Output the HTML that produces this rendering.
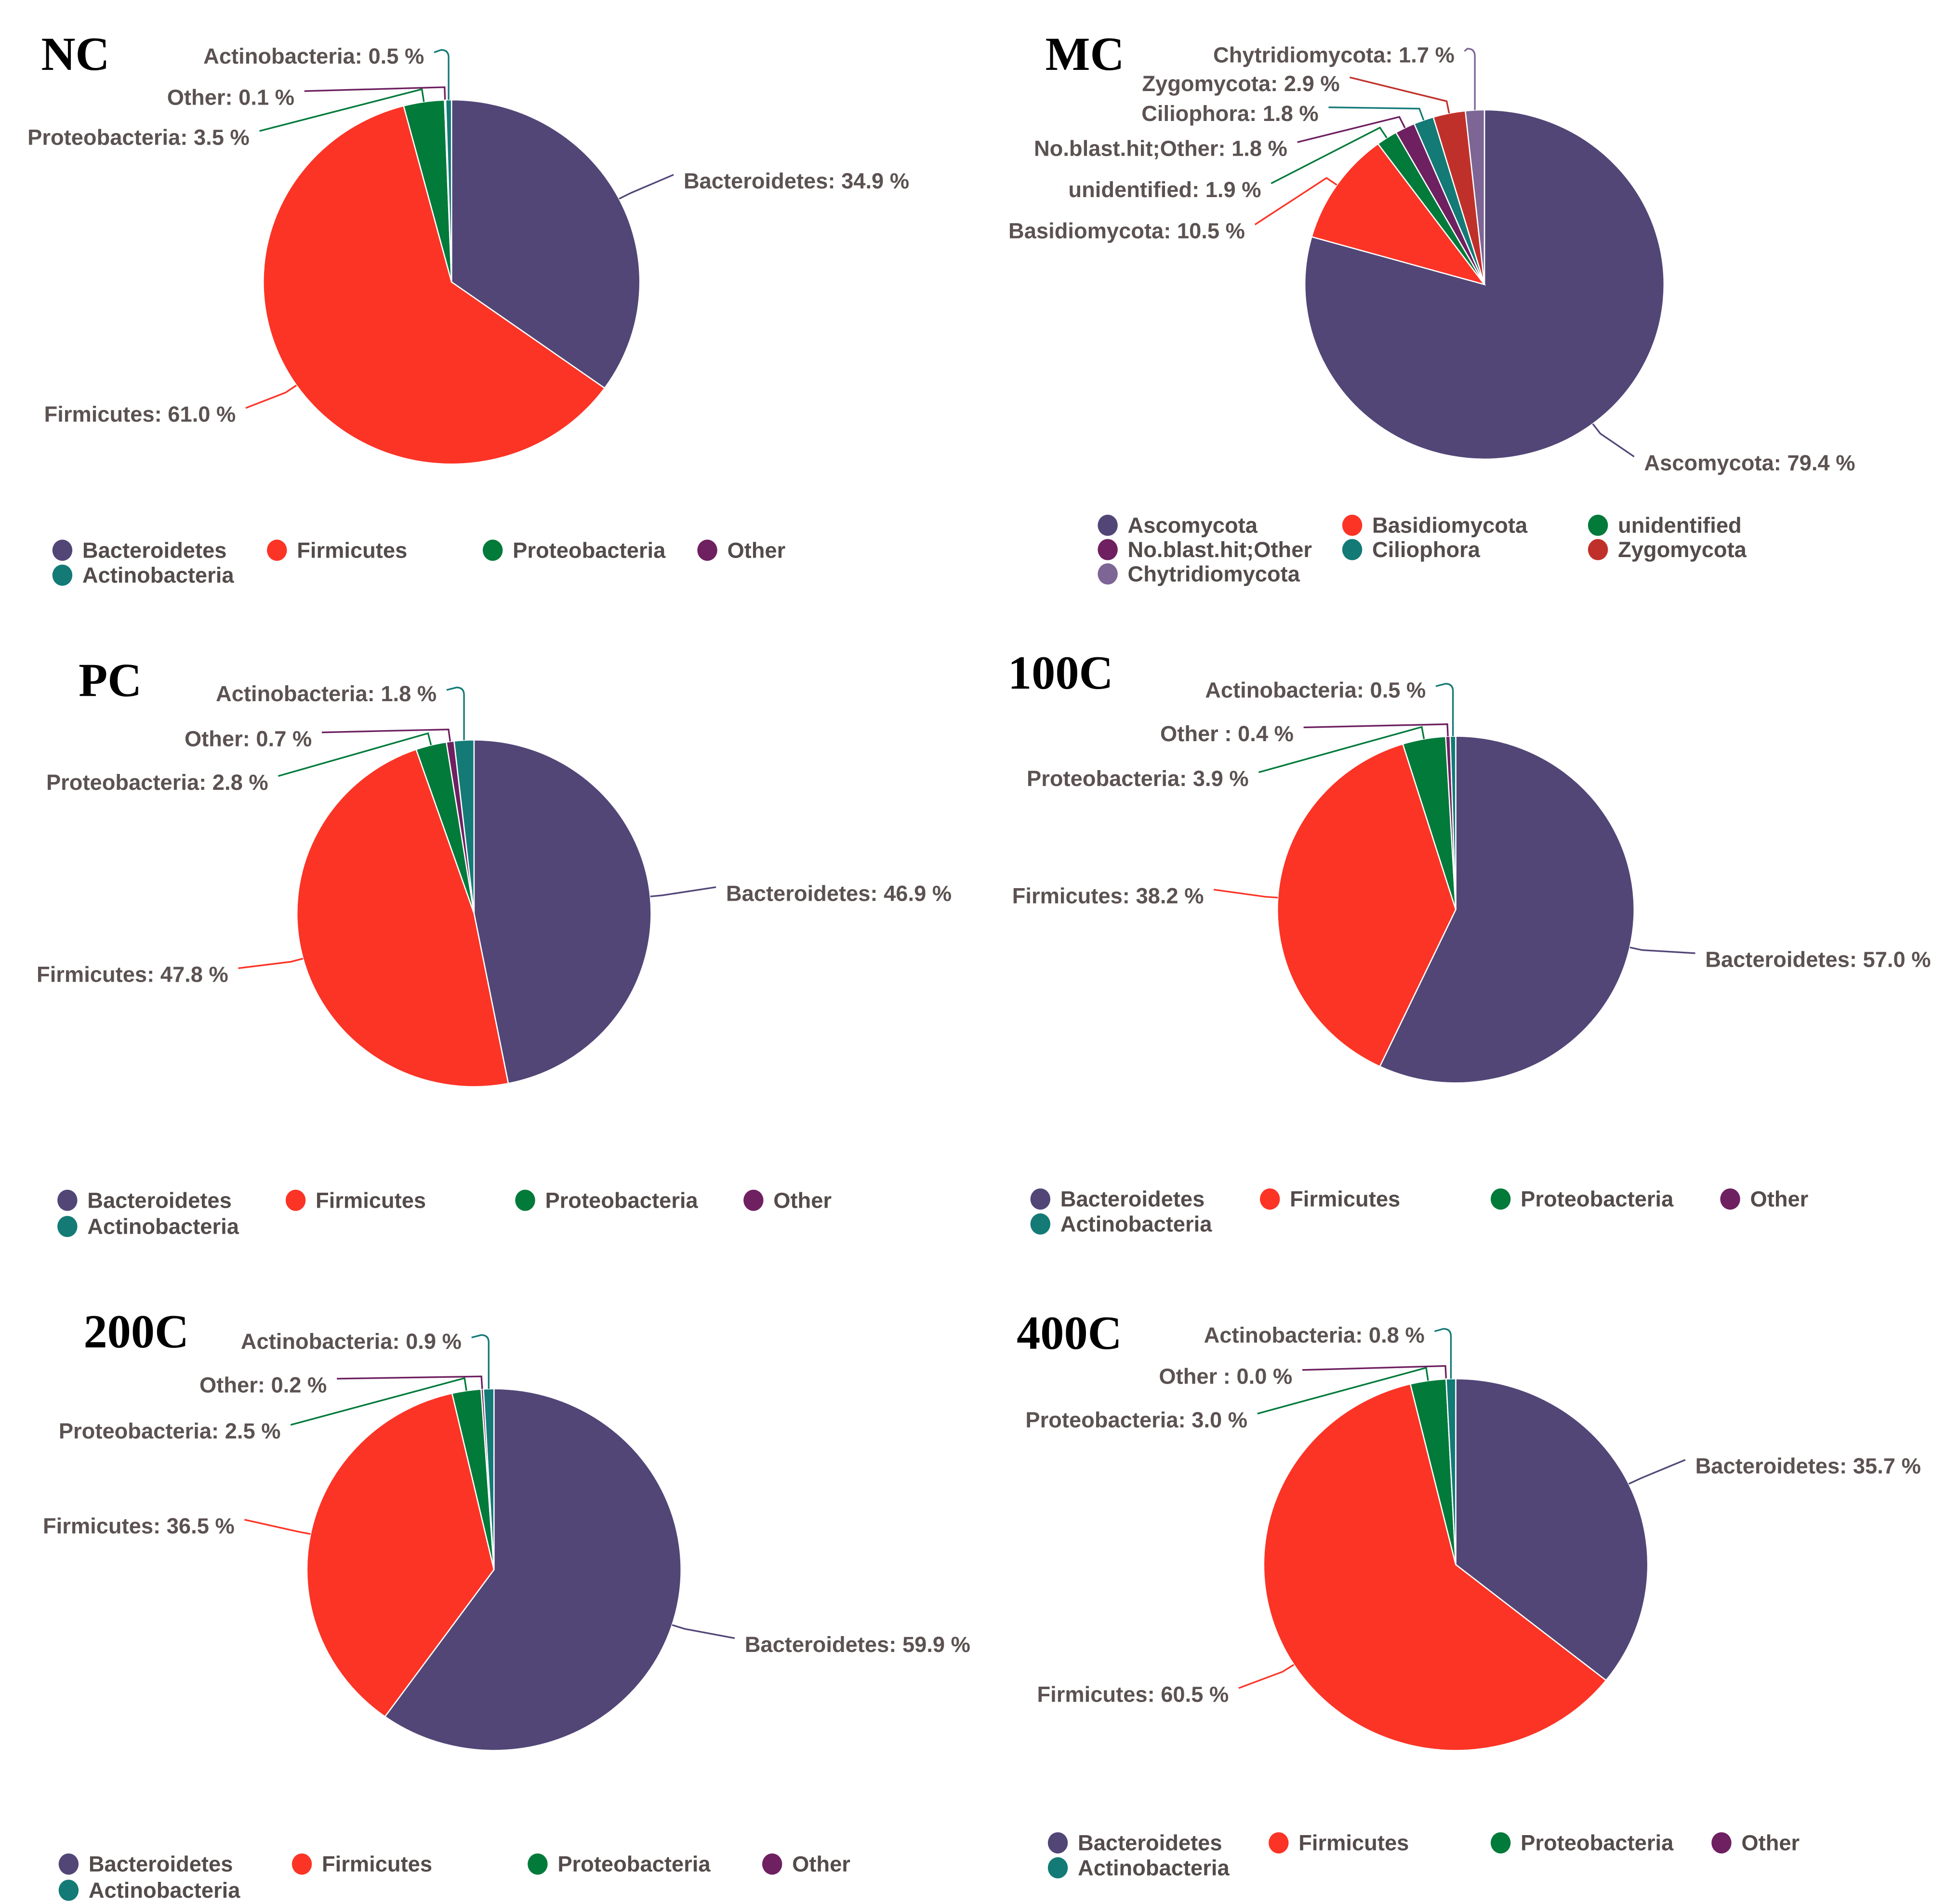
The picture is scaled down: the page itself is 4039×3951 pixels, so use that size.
<!DOCTYPE html>
<html><head><meta charset="utf-8"><style>
html,body{margin:0;padding:0;background:#fff;}
svg{display:block;}
.lbl{font-family:"Liberation Sans",sans-serif;font-weight:bold;font-size:17.5px;fill:#5c5252;}
.leg{font-family:"Liberation Sans",sans-serif;font-weight:bold;font-size:17.5px;fill:#544b4b;}
.ttl{font-family:"Liberation Serif",serif;font-weight:bold;font-size:38px;fill:#000;}
</style></head><body>
<svg id="chart" width="4039" height="3951" viewBox="0 0 1560 1526" xmlns="http://www.w3.org/2000/svg">
<rect width="1560" height="1526" fill="#fff"/>
</svg>
<script>
// ---- data ----
const ncCategories = ["Bacteroidetes","Firmicutes","Proteobacteria","Other","Actinobacteria"];
const ncValues = [34.9, 61.0, 3.5, 0.1, 0.5];
const mcCategories = ["Ascomycota","Basidiomycota","unidentified","No.blast.hit;Other","Ciliophora","Zygomycota","Chytridiomycota"];
const mcValues = [79.4, 10.5, 1.9, 1.8, 1.8, 2.9, 1.7];
const pcCategories = ["Bacteroidetes","Firmicutes","Proteobacteria","Other","Actinobacteria"];
const pcValues = [46.9, 47.8, 2.8, 0.7, 1.8];
const c100Categories = ["Bacteroidetes","Firmicutes","Proteobacteria","Other ","Actinobacteria"];
const c100Values = [57.0, 38.2, 3.9, 0.4, 0.5];
const c200Categories = ["Bacteroidetes","Firmicutes","Proteobacteria","Other","Actinobacteria"];
const c200Values = [59.9, 36.5, 2.5, 0.2, 0.9];
const c400Categories = ["Bacteroidetes","Firmicutes","Proteobacteria","Other ","Actinobacteria"];
const c400Values = [35.7, 60.5, 3.0, 0.0, 0.8];

const bactColors = ["#524677","#fb3426","#017a3a","#6e2061","#137a76"];
const fungColors = ["#524677","#fb3426","#017a3a","#6e2061","#137a76","#c0302a","#7d6595"];

// ---- layout (not data) ----
const panels = [
 {name:"NC", cats:ncCategories, vals:ncValues, colors:bactColors, cx:362, cy:226, rx:151, ry:146, tx:33, ty:56,
  labels:[[548,145,"start"],[189,332,"end"],[200,110,"end"],[236,78,"end"],[340,45,"end"]],
  legend:{x0:50, cols:[50,222,395,567], y0:441, dy:20, per:4}},
 {name:"MC", cats:mcCategories, vals:mcValues, colors:fungColors, cx:1190, cy:228, rx:144, ry:140, tx:838, ty:56,
  labels:[[1318,371,"start"],[998,185,"end"],[1011,152,"end"],[1032,119,"end"],[1057,91,"end"],[1074,67,"end"],[1166,44,"end"]],
  legend:{x0:888, cols:[888,1084,1281], y0:421, dy:19.5, per:3}},
 {name:"PC", cats:pcCategories, vals:pcValues, colors:bactColors, cx:380, cy:732, rx:142, ry:139, tx:63, ty:558,
  labels:[[582,716,"start"],[183,781,"end"],[215,627,"end"],[250,592,"end"],[350,556,"end"]],
  legend:{x0:54, cols:[54,237,421,604], y0:962, dy:21, per:4}},
 {name:"100C", cats:c100Categories, vals:c100Values, colors:bactColors, cx:1167, cy:729, rx:143, ry:139, tx:808, ty:552,
  labels:[[1367,769,"start"],[965,718,"end"],[1001,624,"end"],[1037,588,"end"],[1143,553,"end"]],
  legend:{x0:834, cols:[834,1018,1203,1387], y0:961, dy:20, per:4}},
 {name:"200C", cats:c200Categories, vals:c200Values, colors:bactColors, cx:396, cy:1258, rx:150, ry:145, tx:67, ty:1080,
  labels:[[597,1318,"start"],[188,1223,"end"],[225,1147,"end"],[262,1110,"end"],[370,1075,"end"]],
  legend:{x0:55, cols:[55,242,431,619], y0:1494, dy:21, per:4}},
 {name:"400C", cats:c400Categories, vals:c400Values, colors:bactColors, cx:1167, cy:1254, rx:154, ry:149, tx:815, ty:1081,
  labels:[[1359,1175,"start"],[985,1358,"end"],[1000,1138,"end"],[1036,1103,"end"],[1142,1070,"end"]],
  legend:{x0:848, cols:[848,1025,1203,1380], y0:1477, dy:20, per:4}}
];

const NS = "http://www.w3.org/2000/svg";
const svg = document.getElementById("chart");
function mk(tag, attrs, parent){
  const e = document.createElementNS(NS, tag);
  for (const k in attrs) e.setAttribute(k, attrs[k]);
  parent.appendChild(e); return e;
}
function pt(p, a, k){ k = k||1; return [p.cx + p.rx*k*Math.sin(a), p.cy - p.ry*k*Math.cos(a)]; }

panels.forEach(p => {
  const g = mk("g", {}, svg);
  
  
  const t = mk("text", {x:p.tx, y:p.ty, class:"ttl"}, g);
  t.textContent = p.name;
  
  

  const total = p.vals.reduce((a,b)=>a+b,0);
  let a0 = 0;
  p.vals.forEach((v,i) => {
    const a1 = a0 + v/total*2*Math.PI;
    const s = pt(p,a0), e = pt(p,a1);
    const large = (a1-a0) > Math.PI ? 1 : 0;
    const path = mk("path", {d:`M${p.cx},${p.cy} L${s[0]},${s[1]} A${p.rx},${p.ry} 0 ${large} 1 ${e[0]},${e[1]} Z`,
      fill:p.colors[i], stroke:"#fff", "stroke-width":1}, g);
    
    
    const mid = (a0+a1)/2;
    const L = p.labels[i];
    const ep = pt(p, mid, 1.0);
    const lx = L[2]==="start" ? L[0]-8 : L[0]+8;
    const ly = L[1]-5;
    let d;
    if (ly < ep[1] - 30 && Math.abs(ep[0]-p.cx) < 60) {
      d = `M${ep[0]},${ep[1]} L${ep[0]},${ly+6} Q${ep[0]},${ly} ${ep[0]-6},${ly} L${lx},${ly+ (L[2]==="end"?(ep[0]-lx>150?18:2):0)}`;
    } else {
      const op = pt(p, mid, 1.07);
      d = `M${ep[0]},${ep[1]} L${op[0]},${op[1]} L${lx},${ly}`;
    }
    const ln = mk("path", {d:d, fill:"none", stroke:p.colors[i], "stroke-width":1.3}, g);
    
    
    const tx = mk("text", {x:L[0], y:L[1]+6, "text-anchor":L[2], class:"lbl"}, g);
    tx.textContent = p.cats[i] + ": " + v.toFixed(1) + " %";
    
    
    a0 = a1;
  });

  p.cats.forEach((c,i) => {
    const row = Math.floor(i/p.legend.per), col = i % p.legend.per;
    const x = p.legend.cols[col], y = p.legend.y0 + row*p.legend.dy;
    const lg = mk("g", {}, g);
    
    
    mk("ellipse", {cx:x, cy:y, rx:8, ry:8.5, fill:p.colors[i]}, lg);
    const lt = mk("text", {x:x+16, y:y+6, class:"leg"}, lg);
    lt.textContent = c.trim();
  });
});
</script>
</body></html>
